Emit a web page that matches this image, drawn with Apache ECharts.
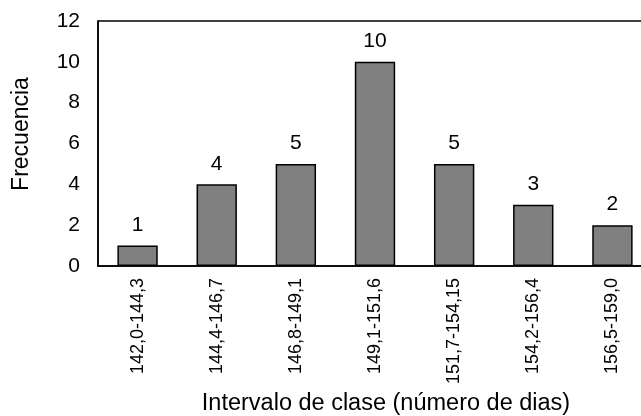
<!DOCTYPE html>
<html>
<head>
<meta charset="utf-8">
<script src="https://cdn.jsdelivr.net/npm/echarts@6/dist/echarts.min.js"></script>
<style>html,body{margin:0;padding:0;background:#fff;}#c{width:641px;height:416px;}</style>
</head>
<body>
<div id="c"></div>
<script>
const categories = ["142,0-144,3","144,4-146,7","146,8-149,1","149,1-151,6","151,7-154,15","154,2-156,4","156,5-159,0"];
const frequencies = [1,4,5,10,5,3,2];
const yTicks = [0,2,4,6,8,10,12];

const FONT = 'Liberation Sans, Arial, sans-serif';
const chart = echarts.init(document.getElementById('c'), null, {renderer:'canvas'});
chart.setOption({
  animation:false,
  backgroundColor:'#fff',
  textStyle:{fontFamily:FONT},
  grid:{left:98, width:554, top:21, height:245, outerBoundsMode:'none', containLabel:false, show:true, borderColor:'#000', borderWidth:1.5, backgroundColor:'transparent'},
  xAxis:{
    type:'category', data:categories,
    axisLine:{lineStyle:{color:'#000', width:1.5}},
    axisTick:{show:false},
    axisLabel:{rotate:90, color:'#000', fontSize:18, margin:12, interval:0, fontFamily:FONT},
    name:'Intervalo de clase (número de dias)', nameLocation:'middle', nameGap:125,
    nameTextStyle:{color:'#000', fontSize:23.5, fontFamily:FONT, padding:[0,0,0,22]}
  },
  yAxis:{
    type:'value', min:yTicks[0], max:yTicks[yTicks.length-1], interval:2,
    axisLine:{show:true, lineStyle:{color:'#000', width:1.5}},
    axisTick:{show:false},
    splitLine:{show:false},
    axisLabel:{color:'#000', fontSize:21, margin:18, fontFamily:FONT},
    name:'Frecuencia', nameLocation:'middle', nameGap:65, nameRotate:90,
    nameTextStyle:{color:'#000', fontSize:23, fontFamily:FONT, padding:[0,0,0,19]}
  },
  series:[{
    type:'bar', data:frequencies, barWidth:'51%',
    itemStyle:{color:'#808080', borderColor:'#000', borderWidth:1.5},
    label:{show:true, position:'top', distance:10, color:'#000', fontSize:21, fontFamily:FONT}
  }]
});
</script>
</body>
</html>
